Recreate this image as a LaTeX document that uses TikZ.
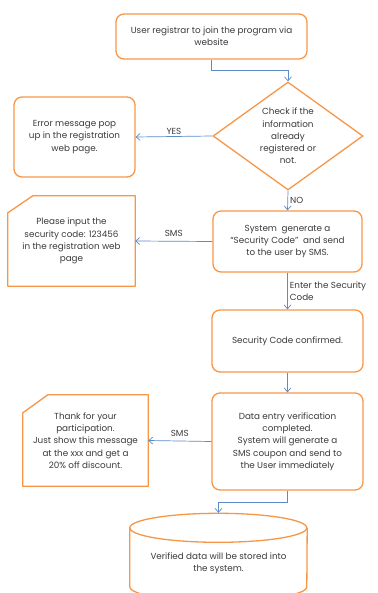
\documentclass[tikz,border=0pt]{standalone}
\usepackage{fontspec}
\setmainfont{Poppins}
\usetikzlibrary{arrows.meta,calc,shapes.geometric}
\definecolor{boxorange}{HTML}{F79646}
\definecolor{lineblue}{HTML}{5B8BC9}
\definecolor{txt}{HTML}{3A3A3A}
\begin{document}
\begin{tikzpicture}[x=1pt,y=-1pt,
 every node/.style={font=\fontsize{8.8}{12.3}\selectfont, text=txt},
 procbox/.style={draw=boxorange, line width=1.3pt, rounded corners=8pt, align=center, inner sep=0pt},
 snipbox/.style={align=center, inner sep=0pt},
 orangeline/.style={draw=boxorange, line width=1.3pt},
 flow/.style={draw=lineblue, line width=0.7pt, -{Straight Barb[length=4pt,width=7pt]}},
 lbl/.style={font=\fontsize{8.8}{10}\selectfont, inner sep=2pt}]
\useasboundingbox (0,0) rectangle (377,593);
\clip (0,0) rectangle (377,593);

\node[procbox, minimum width=191pt, minimum height=45pt] (reg) at (211.5,36.5) {User registrar to join the program via\\website};
\node[draw=boxorange, line width=1.3pt, diamond, aspect=1.39, inner sep=0pt, align=center, minimum width=150pt, minimum height=108pt] (chk) at (288,136) {Check if the\\information\\already\\registered or\\not.};
\node[procbox, minimum width=121pt, minimum height=80pt] (err) at (74.5,137) {Error message pop\\up in the registration\\web page.};
\node[procbox, minimum width=149pt, minimum height=61pt] (sys) at (287.5,241.5) {System\ \ generate a\\“Security Code”\ \ and send\\to the user by SMS.};
\node[snipbox, minimum width=127pt, minimum height=90pt] (sec) at (71.5,241) {Please input the\\security code: 123456\\in the registration web\\page};
\draw[orangeline, line join=round] ($(sec.north west)+(0,17)$) -- ($(sec.north west)+(25,0)$) -- (sec.north east) -- (sec.south east) -- (sec.south west) -- cycle;
\node[procbox, minimum width=151pt, minimum height=62pt] (conf) at (287.5,341) {Security Code confirmed.};
\node[procbox, minimum width=151pt, minimum height=97pt] (data) at (287.5,441.5) {Data entry verification\\completed.\\System will generate a\\SMS coupon and send to\\the User immediately};
\node[snipbox, minimum width=125pt, minimum height=91pt] (thank) at (85.5,440.5) {Thank for your\\participation.\\Just show this message\\at the xxx and get a\\20\% off discount.};
\draw[orangeline, line join=round] ($(thank.north west)+(0,18)$) -- ($(thank.north west)+(25,0)$) -- (thank.north east) -- (thank.south east) -- (thank.south west) -- cycle;

% cylinder
\node[inner sep=0pt, minimum width=177pt, minimum height=88pt] (db) at (218.5,557) {};
\node[align=center, inner sep=0pt] (dbtext) at (218.5,563) {Verified data will be stored into\\the system.};
\draw[orangeline] (db.north west) ++(0,15) arc[start angle=180, end angle=-180, x radius=88.5pt, y radius=14.5pt];
\draw[orangeline] ($(db.north west)+(0,15)$) -- ($(db.north west)+(0,74)$) arc[start angle=180, end angle=360, x radius=88.5pt, y radius=14.5pt] -- ($(db.north east)+(0,15)$);

% connectors
\draw[flow] (reg.south) -- ++(0,11) -| (chk.north);
\draw[flow] (chk.west) -- node[above, lbl]{YES} (err.east);
\draw[flow] (chk.south) -- node[right, lbl]{NO} (sys.north);
\draw[flow] (sys.west) -- node[above, lbl, yshift=2pt]{SMS} (sec.east);
\draw[flow] (sys.south) -- node[right, lbl, align=left, font=\fontsize{8.8}{12}\selectfont]{Enter the Security\\Code} (conf.north);
\draw[flow] (conf.south) -- (data.north);
\draw[flow] (data.west) -- node[above, lbl, yshift=2pt]{SMS} (thank.east);
\draw[flow] (data.south) -- ++(0,12) -| (db.north);
\end{tikzpicture}
\end{document}
